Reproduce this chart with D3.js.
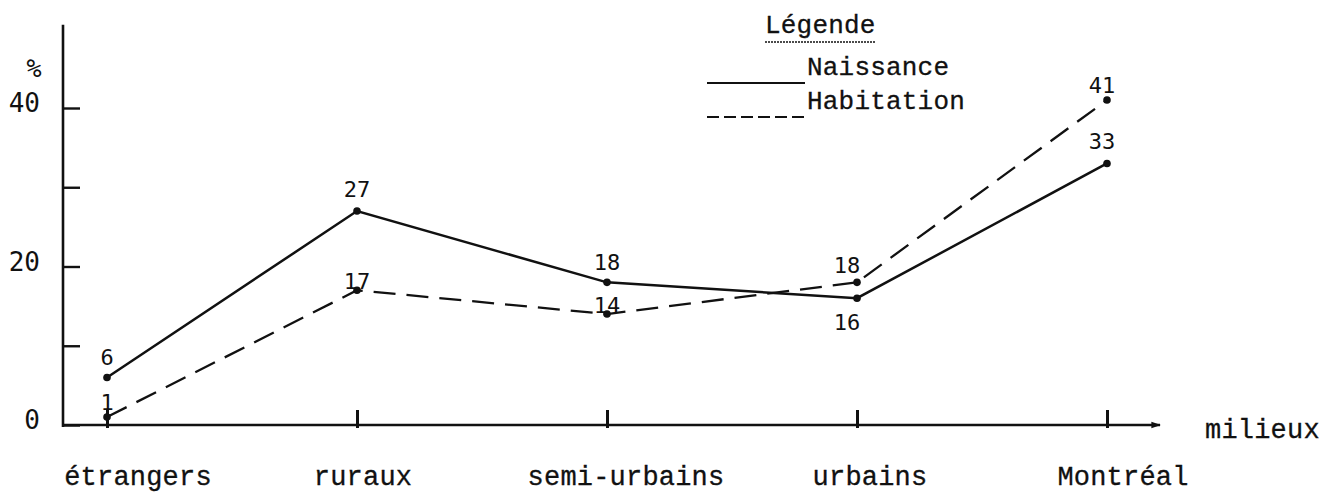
<!DOCTYPE html>
<html>
<head>
<meta charset="utf-8">
<script src="https://cdnjs.cloudflare.com/ajax/libs/d3/7.8.5/d3.min.js"></script>
<style>
  body { margin: 0; background: #fff; }
  text { fill: #111; }
  .type { font-family: "Liberation Mono", "Courier New", monospace; font-size: 27px; letter-spacing: 0.2px; stroke: #111; stroke-width: 0.3px; }
  .num { font-family: "DejaVu Sans Mono", monospace; font-size: 22px; }
</style>
</head>
<body>
<script>
// the data
var categories = ["étrangers", "ruraux", "semi-urbains", "urbains", "Montréal"];
var naissance  = [6, 27, 18, 16, 33];
var habitation = [1, 17, 14, 18, 41];
var yTicks = [0, 10, 20, 30, 40];
var yTickLabels = [0, 20, 40];
var seriesNames = ["Naissance", "Habitation"];
var legendTitle = "Légende";
var xTitle = "milieux";
var yTitle = "%";

// label nudges (px), kept apart from the values
var naissanceLabelDy  = [-20, -22, -20, 24, -22];
var habitationLabelDy = [-15, -9, -9, -17, -15];
var labelDx = [0, 0, 0, -10, -5];
var tickLabelDx = [31, 6, 19, 13, 16];

window.onload = function() {
  var width = 1323, height = 494;

  var svg = d3.select("body").append("svg")
    .attr("width", width)
    .attr("height", height);

  var x = d3.scalePoint()
    .domain(categories)
    .range([107, 1107]);

  var y = d3.scaleLinear()
    .domain([0, 40])
    .range([425, 108]);

  var axisX = 63;
  var yTop = 50.5;     // the vertical axis runs past the last tick
  var xEnd = 1160;     // end of the arrow on the horizontal axis

  // y axis: line + ticks pointing inward
  svg.append("line")
    .attr("x1", axisX).attr("x2", axisX)
    .attr("y1", y(0) + 2).attr("y2", y(yTop))
    .attr("stroke", "#111").attr("stroke-width", 2.6);

  var yAxis = d3.axisLeft(y)
    .tickValues(yTicks)
    .tickSizeInner(-17)
    .tickSizeOuter(0)
    .tickPadding(23)
    .tickFormat(function(d) { return yTickLabels.indexOf(d) >= 0 ? d : ""; });

  var gy = svg.append("g")
    .attr("transform", "translate(" + axisX + ",0)")
    .call(yAxis);
  gy.select(".domain").remove();
  gy.selectAll(".tick line").attr("stroke", "#111").attr("stroke-width", 2.4);
  gy.selectAll(".tick text")
    .attr("class", "num")
    .style("font-size", "26px")
    .attr("dy", "0.15em");

  svg.append("text")
    .attr("class", "num")
    .attr("x", 34).attr("y", 77)
    .attr("text-anchor", "middle")
    .style("font-size", "25px")
    .text(yTitle);

  // x axis with arrow
  svg.append("defs").append("marker")
    .attr("id", "arrow")
    .attr("viewBox", "0 0 10 10")
    .attr("refX", 9).attr("refY", 5)
    .attr("markerWidth", 4).attr("markerHeight", 4)
    .attr("orient", "auto")
    .append("path")
    .attr("d", "M0,1.5L10,5L0,8.5Z")
    .attr("fill", "#111");

  svg.append("line")
    .attr("x1", axisX).attr("x2", xEnd)
    .attr("y1", y(0)).attr("y2", y(0))
    .attr("stroke", "#111").attr("stroke-width", 2.4)
    .attr("marker-end", "url(#arrow)");

  var xAxis = d3.axisBottom(x)
    .tickSizeInner(-18)
    .tickSizeOuter(0)
    .tickFormat("");

  var gx = svg.append("g")
    .attr("transform", "translate(0," + (y(0) + 3) + ")")
    .call(xAxis);
  gx.select(".domain").remove();
  gx.selectAll(".tick line").attr("stroke", "#111").attr("stroke-width", 3);

  svg.selectAll(".cat-label")
    .data(categories)
    .enter().append("text")
    .attr("class", "type cat-label")
    .attr("x", function(d, i) { return x(d) + tickLabelDx[i]; })
    .attr("y", 485)
    .attr("text-anchor", "middle")
    .text(function(d) { return d; });

  svg.append("text")
    .attr("class", "type")
    .attr("x", 1205).attr("y", 438)
    .text(xTitle);

  // series
  var line = d3.line()
    .x(function(d, i) { return x(categories[i]); })
    .y(function(d) { return y(d); });

  svg.append("path")
    .datum(habitation)
    .attr("d", line)
    .attr("fill", "none")
    .attr("stroke", "#111")
    .attr("stroke-width", 2.3)
    .attr("stroke-dasharray", "22,11");

  svg.append("path")
    .datum(naissance)
    .attr("d", line)
    .attr("fill", "none")
    .attr("stroke", "#111")
    .attr("stroke-width", 2.5);

  [naissance, habitation].forEach(function(series, s) {
    var dys = s === 0 ? naissanceLabelDy : habitationLabelDy;

    svg.selectAll(".pt" + s)
      .data(series)
      .enter().append("circle")
      .attr("class", "pt" + s)
      .attr("cx", function(d, i) { return x(categories[i]); })
      .attr("cy", function(d) { return y(d); })
      .attr("r", 3.8)
      .attr("fill", "#111");

    svg.selectAll(".val" + s)
      .data(series)
      .enter().append("text")
      .attr("class", "num val" + s)
      .attr("x", function(d, i) { return x(categories[i]) + labelDx[i]; })
      .attr("y", function(d, i) { return y(d) + dys[i]; })
      .attr("dy", "0.36em")
      .attr("text-anchor", "middle")
      .text(function(d) { return d; });
  });

  // legend
  svg.append("text")
    .attr("class", "type")
    .attr("x", 765).attr("y", 33)
    .style("font-size", "26px")
    .text(legendTitle);
  svg.append("line")
    .attr("x1", 765).attr("x2", 875)
    .attr("y1", 42).attr("y2", 42)
    .attr("stroke", "#111").attr("stroke-width", 1.6)
    .attr("stroke-dasharray", "2,1");

  var legendY = [75, 109];
  var legendDash = [null, "12,5"];
  seriesNames.forEach(function(name, i) {
    svg.append("line")
      .attr("x1", 707).attr("x2", 805)
      .attr("y1", legendY[i] + 8).attr("y2", legendY[i] + 8)
      .attr("stroke", "#111").attr("stroke-width", 2.2)
      .attr("stroke-dasharray", legendDash[i]);
    svg.append("text")
      .attr("class", "type")
      .attr("x", 807).attr("y", legendY[i])
      .style("font-size", "26px")
      .text(name);
  });
};
</script>
</body>
</html>
